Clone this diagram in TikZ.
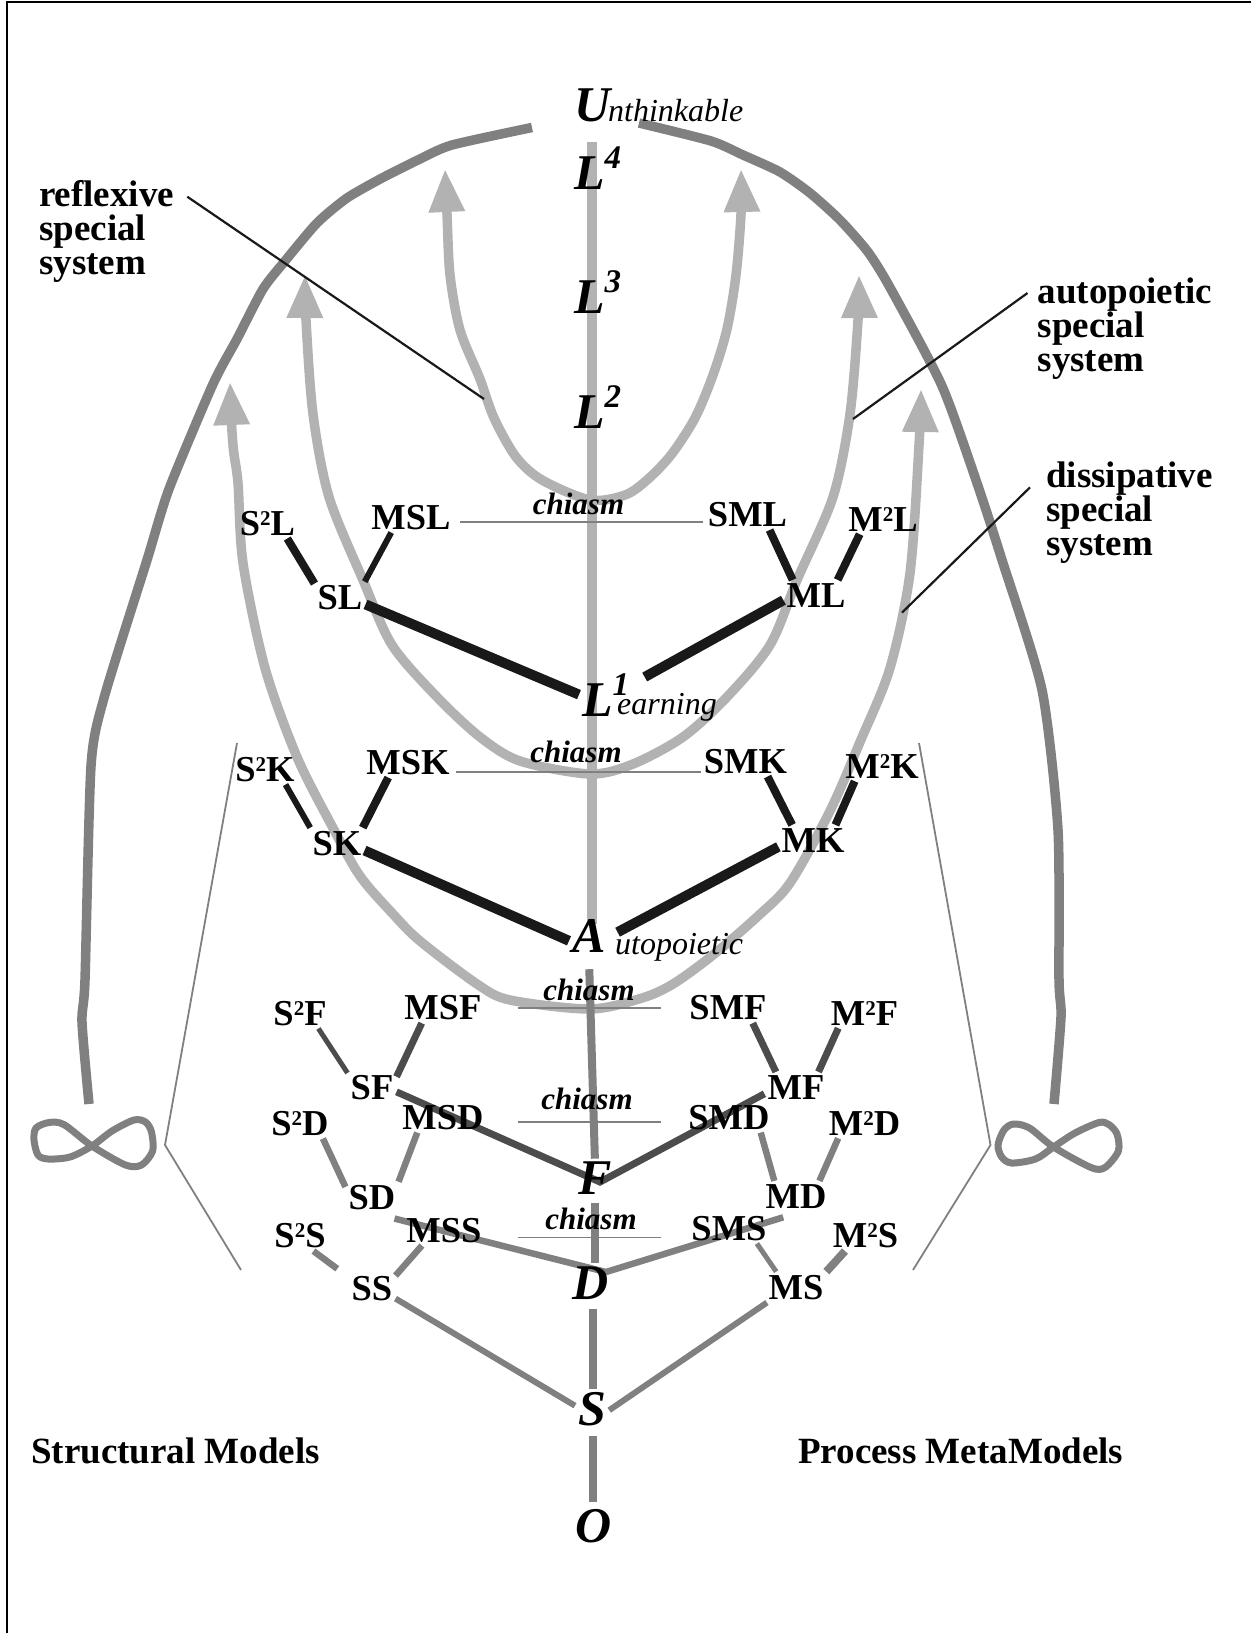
\documentclass[tikz,border=0pt]{standalone}
\usepackage{fontspec}
\setmainfont{Liberation Serif}
\usetikzlibrary{arrows.meta,backgrounds}
\definecolor{palegray}{gray}{0.7}
\definecolor{hullgray}{gray}{0.5}
\definecolor{rodblack}{gray}{0.1}
\definecolor{roddark}{gray}{0.3}
\newcommand{\supnum}[1]{\raisebox{21pt}{\fontsize{33}{33}\selectfont #1}}
\newcommand{\sqd}{\raisebox{10pt}{\fontsize{21}{21}\selectfont 2}}
\tikzset{
  lab/.style={anchor=base, inner sep=3pt, font=\bfseries\fontsize{36.5}{36.5}\selectfont},
  seed/.style={anchor=base west, inner sep=3pt, font=\bfseries\itshape\fontsize{50}{50}\selectfont},
  subword/.style={anchor=base west, inner sep=0pt, font=\itshape\fontsize{32}{32}\selectfont},
  crossword/.style={anchor=base, inner sep=0pt, font=\bfseries\itshape\fontsize{31}{31}\selectfont},
  sidenote/.style={anchor=base west, align=left, inner ysep=0pt, font=\bfseries\fontsize{37}{34}\selectfont},
  hull/.style={draw=hullgray, line width=9.5pt},
  sysarc/.style={draw=palegray, line width=9.5pt, <->},
  rodthick/.style={draw=rodblack, line width=10pt},
  rodthin/.style={draw=rodblack, line width=8pt},
  roddim/.style={draw=roddark, line width=7pt},
  rodgray/.style={draw=hullgray, line width=6.5pt},
  hair/.style={draw=hullgray, line width=1.8pt},
  leader/.style={draw=rodblack, line width=2.2pt}
}
\begin{document}
\begin{tikzpicture}[x=1pt, y=-1pt, >={Triangle[length=43pt,width=34pt]}]
  \useasboundingbox (0,0) rectangle (1251,1633);
  \draw[line width=2.6pt] (1251,2) -- (7,2) -- (7,1633);

  \node[seed] (Uword) at (571,121) {U};
  \node[subword] (nthink) at (608,121) {nthinkable};
  \node[seed] (Lfour) at (571,189) {L\supnum{4}};
  \node[seed] (Lthree) at (571,313.6) {L\supnum{3}};
  \node[seed] (Ltwo) at (571,428.6) {L\supnum{2}};
  \node[seed] (Lone) at (579,716) {L\supnum{1}};
  \node[subword] (earn) at (617,714) {earning};
  \node[seed] (Aword) at (569,952) {A};
  \node[subword] (utop) at (615,954.5) {utopoietic};
  \node[seed] (Fword) at (575,1194.6) {F};
  \node[seed] (Dword) at (569,1299) {D};
  \node[seed] (Sword) at (575,1425) {S};
  \node[seed] (Oword) at (572,1542.5) {O};

  \node[lab] (SSL) at (267.5,535) {S\sqd L};
  \node[lab] (MSL) at (411,529) {MSL};
  \node[lab] (SL) at (340,609) {SL};
  \node[lab] (SML) at (747.5,526.5) {SML};
  \node[lab] (MML) at (883,531) {M\sqd L};
  \node[lab] (ML) at (816,607) {ML};
  \node[lab] (SSK) at (265,781) {S\sqd K};
  \node[lab] (MSK) at (408,774) {MSK};
  \node[lab] (SK) at (337,855) {SK};
  \node[lab] (SMK) at (745.5,773) {SMK};
  \node[lab] (MMK) at (882,778) {M\sqd K};
  \node[lab] (MK) at (813,852) {MK};
  \node[lab] (SSF) at (300,1025) {S\sqd F};
  \node[lab] (MSF) at (443,1019.6) {MSF};
  \node[lab] (SF) at (372,1099) {SF};
  \node[lab] (SMF) at (728,1019.6) {SMF};
  \node[lab] (MMF) at (864.5,1025) {M\sqd F};
  \node[lab] (MF) at (796,1099) {MF};
  \node[lab] (SSD) at (300,1135) {S\sqd D};
  \node[lab] (MSD) at (443,1129) {MSD};
  \node[lab] (SD) at (372,1209) {SD};
  \node[lab] (SMD) at (729,1129) {SMD};
  \node[lab] (MMD) at (864.5,1135) {M\sqd D};
  \node[lab] (MD) at (796,1208) {MD};
  \node[lab] (SSS) at (300,1247.5) {S\sqd S};
  \node[lab] (MSS) at (444,1242) {MSS};
  \node[lab] (SS) at (372,1300) {SS};
  \node[lab] (SMS) at (729,1240) {SMS};
  \node[lab] (MMS) at (865.5,1247.5) {M\sqd S};
  \node[lab] (MS) at (796,1299) {MS};

  \node[crossword] (chiasmA) at (578.5,514) {chiasm};
  \node[crossword] (chiasmB) at (576,762) {chiasm};
  \node[crossword] (chiasmC) at (589,1000) {chiasm};
  \node[crossword] (chiasmD) at (587,1109) {chiasm};
  \node[crossword] (chiasmE) at (591,1229) {chiasm};

  \node[sidenote, inner xsep=13pt] (reflexnote) at (26,274) {reflexive\\special\\system};
  \node[sidenote, inner xsep=10pt] (autonote) at (1027.5,371.4) {autopoietic\\special\\system};
  \node[sidenote, inner xsep=16pt] (dissnote) at (1030,555) {dissipative\\special\\system};
  \node[lab, anchor=base west, inner sep=0pt, font=\bfseries\fontsize{37}{37}\selectfont] (structnote) at (31,1463) {Structural Models};
  \node[lab, anchor=base west, inner sep=0pt, font=\bfseries\fontsize{37}{37}\selectfont] (procnote) at (798,1463) {Process MetaModels};

  \coordinate (reflexfoot) at (484,399);
  \coordinate (autofoot) at (853,419);
  \coordinate (dissfoot) at (902,612.6);
  \coordinate (Fjoin) at (600,1182);
  \coordinate (Djoin) at (606,1272);

  \begin{scope}[on background layer]
    \draw[hull] plot[smooth, tension=0.4] coordinates {(532,127.5) (452,145) (420,159) (383,177.5) (347,198) (317,223) (285,261) (263,289) (237,339) (213,384) (169,489) (147,560) (104,698) (91,766) (85,980) (82,1022) (89,1104)};
    \draw[hull] plot[smooth, tension=0.4] coordinates {(639,123) (711,141) (743,155) (780,172) (810,193) (840,220) (868,252) (890,287.5) (942,386) (978,486) (1002,560) (1042,690) (1058,830) (1059,980) (1061,1017) (1054,1104)};

    \draw[sysarc] plot[smooth, tension=0.5] coordinates {(445,169) (447,214) (450,275) (460,330) (480,379) (494,418) (516,457) (542,480) (590,500) (625,495) (647,480) (671,455) (695,418) (713,375) (727,329) (736,275) (741,214) (741,169)};
    \draw[sysarc] plot[smooth, tension=0.5] coordinates {(305,275) (306,320) (313,414) (329,497) (363,580) (392,645) (437,697) (480,737) (520,761) (590,774) (633,764) (683,737) (727,697) (770,645) (797,580) (833,497) (850,414) (858,320) (859,275)};
    \draw[sysarc] plot[smooth, tension=0.5] coordinates {(230,382) (233,445) (238,483) (243,563) (265,668) (297,757) (333,828) (360,876) (393,914) (420,941) (477,984) (510,1000) (590,1009) (642,998) (673,984) (713,955) (758,916) (790,883) (830,811) (860,742) (890,668) (910,573) (919,445) (921,389)};

    \draw[draw=palegray, line width=10pt, shorten <=17pt, shorten >=-8pt] (Uword.south) -- (Uword.south |- Aword.north);
    \draw[draw=hullgray, line width=8pt, shorten <=14pt] (Aword.south) -- (Fword.north);
    \draw[draw=hullgray, line width=8pt, shorten <=5pt] (Fword.south) -- (Fword.south |- Dword.north);
    \draw[draw=hullgray, line width=8pt, shorten <=7pt] (Dword.south -| Oword.north) -- (Sword.north -| Oword.north);
    \draw[draw=hullgray, line width=8pt, shorten <=7pt, shorten >=4pt] (Sword.south -| Oword.north) -- (Oword.north);

    \draw[hair] (460,522) -- (703,522);
    \draw[hair] (456,772) -- (701,772);
    \draw[hair] (518,1008) -- (661,1008);
    \draw[hair] (518,1122) -- (661,1122);
    \draw[hair] (518,1237.5) -- (661,1237.5);
    \draw[hair] (237,743) -- (165,1145) -- (241,1270);
    \draw[hair] (919,743) -- (990.5,1145) -- (913,1270);

    \draw[leader] (reflexnote.23) -- (reflexfoot);
    \draw[leader] (autonote.160) -- (autofoot);
    \draw[leader] (dissnote.166) -- (dissfoot);

    \draw[rodthin] (SSL.-38) -- (SL.152);
    \draw[rodblack, line width=6pt] (MSL.218) -- (SL.32);
    \draw[rodthick] (SL.-16) -- (Lone.180);
    \draw[rodthin] (SML.-35) -- (ML.147);
    \draw[rodthin] (MML.213) -- (ML.35);
    \draw[rodthick, shorten <=14pt] (Lone.22) -- (ML.189);
    \draw[rodblack, line width=6pt] (SSK.-37) -- (SK.150);
    \draw[rodthin] (MSK.218) -- (SK.31);
    \draw[rodthick] (SK.-15) -- (Aword.195);
    \draw[rodthin] (SMK.-35) -- (MK.144);
    \draw[rodthin] (MMK.209) -- (MK.34);
    \draw[rodthick, shorten <=10pt] (Aword.-4) -- (MK.191);

    \draw[roddim, line width=5pt] (SSF.-40) -- (SF.150);
    \draw[roddim] (MSF.216) -- (SF.23);
    \draw[roddim] (SMF.-32) -- (MF.143);
    \draw[roddim] (MMF.210) -- (MF.34);
    \draw[roddim] (SF.-11) -- (Fjoin) -- (MF.192);

    \draw[rodgray] (SSD.-34) -- (SD.159);
    \draw[rodgray] (MSD.211) -- (SD.30);
    \draw[rodgray] (SMD.-26) -- (MD.145);
    \draw[rodgray] (MMD.210) -- (MD.33);
    \draw[rodgray] ([shift={(-4,6)}]SD.south east) -- (Djoin) -- ([yshift=-6pt]MD.230);

    \draw[rodgray, shorten >=14pt] (SSS.-49) -- (SS.155);
    \draw[rodgray] (MSS.215) -- (SS.28);
    \draw[rodgray, line width=5pt] (SMS.-29) -- (MS.142);
    \draw[rodgray, line width=8pt] (MMS.217) -- (MS.27);
    \draw[rodgray, line width=6pt] (SS.-24) -- (Sword.170);
    \draw[rodgray, line width=6pt] (Sword.-5) -- (MS.208);

    \draw[hull, line width=7pt] plot[smooth cycle, tension=0.5] coordinates {(34,1140) (36,1128) (49,1122.5) (64,1124.6) (92,1146) (125.5,1165) (141.5,1165) (152.6,1151) (151.5,1132) (145.5,1122) (134,1120) (112,1131) (92,1146) (70,1157) (48,1159) (38,1155)};
    \draw[hull, line width=7pt] plot[smooth cycle, tension=0.5] coordinates {(998,1145) (1004,1130) (1013.6,1124) (1029.5,1128) (1053.5,1147) (1091,1167.5) (1105,1167.5) (1118.4,1151) (1117,1134) (1109,1124.6) (1099,1122.5) (1075,1133) (1053.5,1147) (1035.5,1159) (1011.6,1163) (1001.7,1157)};
  \end{scope}
\end{tikzpicture}
\end{document}
